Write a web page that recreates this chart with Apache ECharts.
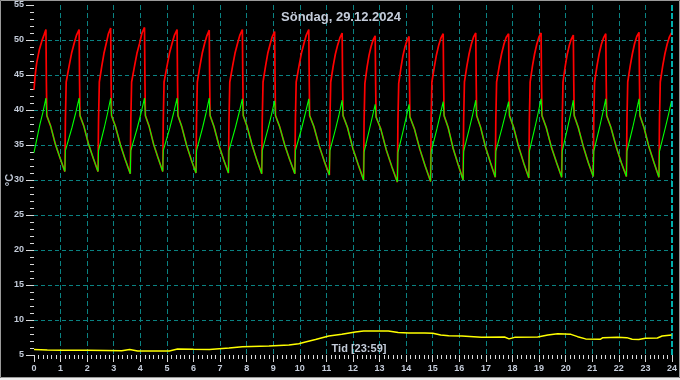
<!DOCTYPE html>
<html><head><meta charset="utf-8">
<script src="https://cdn.jsdelivr.net/npm/echarts@6/dist/echarts.min.js"></script>
<style>html,body{margin:0;padding:0;background:#000;overflow:hidden}#c{width:680px;height:380px}</style>
</head><body><div id="c"></div>
<script>
const titleText = 'Söndag, 29.12.2024';
const xLabelText = 'Tid [23:59]';
const yUnit = '°C';
const cursorTime = 23.983;
const xRange = [0, 24];
const yRange = [5, 55];

const red = [
[0,42.9],[0.04,44.8],[0.1,46.7],[0.2,48.6],[0.29,49.8],[0.375,50.7],[0.449,51.5],
[0.466,44.0],[0.482,39.2],[0.627,37.7],[0.805,35.1],[0.983,33.1],[1.161,31.2],
[1.181,38.6],[1.211,44.0],[1.322,46.3],[1.413,48.1],[1.509,49.5],[1.601,50.7],[1.697,51.5],
[1.714,44.0],[1.730,39.2],[1.875,37.7],[2.053,35.1],[2.230,33.1],[2.408,31.2],
[2.428,38.6],[2.458,44.0],[2.551,46.3],[2.632,48.1],[2.717,49.5],[2.798,50.9],[2.884,51.7],
[2.901,44.0],[2.917,39.2],[3.069,37.6],[3.253,35.0],[3.438,32.85],[3.622,30.9],
[3.642,38.6],[3.672,44.0],[3.783,46.3],[3.873,48.1],[3.970,49.5],[4.061,51.0],[4.157,51.8],
[4.174,44.0],[4.190,39.2],[4.329,37.7],[4.500,35.1],[4.672,33.1],[4.843,31.2],
[4.863,38.6],[4.893,44.0],[5.005,46.3],[5.096,48.1],[5.193,49.5],[5.285,50.7],[5.382,51.5],
[5.399,44.0],[5.415,39.2],[5.560,37.6],[5.738,35.0],[5.916,32.9],[6.094,31.0],
[6.114,38.6],[6.144,44.0],[6.243,46.3],[6.328,48.1],[6.418,49.5],[6.502,50.6],[6.592,51.4],
[6.609,44.0],[6.625,39.2],[6.773,37.6],[6.954,35.0],[7.134,32.9],[7.315,31.0],
[7.335,38.6],[7.365,44.0],[7.472,46.3],[7.561,48.1],[7.656,49.5],[7.745,50.7],[7.839,51.5],
[7.856,44.0],[7.872,39.2],[8.021,37.6],[8.203,35.0],[8.384,32.85],[8.566,30.9],
[8.586,38.6],[8.616,44.0],[8.712,46.3],[8.794,48.1],[8.882,49.4],[8.965,50.5],[9.052,51.2],
[9.069,44.0],[9.085,39.2],[9.242,37.6],[9.433,35.0],[9.623,32.85],[9.813,30.9],
[9.833,38.6],[9.863,44.0],[9.970,46.3],[10.059,48.1],[10.154,49.5],[10.243,50.7],[10.337,51.5],
[10.354,44.0],[10.370,39.2],[10.531,37.6],[10.725,34.9],[10.918,32.7],[11.112,30.7],
[11.132,38.6],[11.162,44.0],[11.256,46.3],[11.338,48.0],[11.424,49.3],[11.506,50.3],[11.592,51.0],
[11.609,44.0],[11.625,39.2],[11.793,37.5],[11.995,34.5],[12.196,32.2],[12.397,30.0],
[12.417,38.4],[12.447,43.8],[12.528,46.1],[12.603,47.8],[12.682,49.1],[12.756,50.0],[12.835,50.6],
[12.852,43.8],[12.868,39.0],[13.044,37.3],[13.253,34.3],[13.461,31.9],[13.670,29.7],
[13.690,38.4],[13.720,43.8],[13.802,46.0],[13.876,47.7],[13.955,49.0],[14.030,49.9],[14.109,50.5],
[14.126,43.8],[14.142,39.0],[14.311,37.3],[14.514,34.4],[14.716,32.0],[14.918,29.8],
[14.938,38.5],[14.968,44.0],[15.061,46.2],[15.141,47.9],[15.227,49.3],[15.308,50.3],[15.393,50.9],
[15.410,44.0],[15.426,39.2],[15.580,37.5],[15.768,34.5],[15.955,32.2],[16.142,30.0],
[16.162,38.5],[16.192,44.0],[16.285,46.3],[16.366,48.0],[16.451,49.4],[16.532,50.4],[16.618,51.0],
[16.635,44.0],[16.651,39.2],[16.802,37.5],[16.985,34.7],[17.169,32.5],[17.352,30.4],
[17.372,38.5],[17.402,44.0],[17.503,46.3],[17.588,48.0],[17.678,49.4],[17.764,50.4],[17.854,50.9],
[17.871,44.0],[17.887,39.2],[18.044,37.5],[18.234,34.7],[18.424,32.4],[18.614,30.3],
[18.634,38.5],[18.664,44.0],[18.752,46.3],[18.831,48.0],[18.914,49.4],[18.992,50.4],[19.075,51.0],
[19.092,44.0],[19.108,39.2],[19.269,37.5],[19.463,34.7],[19.656,32.5],[19.850,30.4],
[19.870,38.5],[19.900,44.0],[19.981,46.2],[20.056,47.9],[20.135,49.2],[20.209,50.1],[20.288,50.7],
[20.305,44.0],[20.321,39.2],[20.475,37.5],[20.663,34.8],[20.850,32.5],[21.037,30.5],
[21.057,38.5],[21.087,44.0],[21.179,46.3],[21.259,48.0],[21.344,49.4],[21.424,50.3],[21.509,50.9],
[21.526,44.0],[21.542,39.2],[21.703,37.5],[21.897,34.8],[22.091,32.5],[22.285,30.5],
[22.305,38.5],[22.335,44.0],[22.428,46.3],[22.508,48.0],[22.594,49.5],[22.675,50.5],[22.760,51.1],
[22.777,44.0],[22.793,39.2],[22.947,37.5],[23.135,34.7],[23.322,32.5],[23.509,30.4],
[23.529,38.5],[23.559,44.0],[23.651,46.3],[23.732,48.0],[23.817,49.4],[23.898,50.4],[23.983,51.0]
];

const green = [
[0,33.9],[0.22,37.9],[0.33,39.6],[0.449,41.7],
[0.466,40.3],[0.482,39.2],[0.627,37.7],[0.805,35.1],[0.983,33.1],[1.161,31.2],
[1.181,34.2],[1.429,37.5],[1.563,39.5],[1.697,41.7],
[1.714,40.3],[1.730,39.2],[1.875,37.7],[2.053,35.1],[2.230,33.1],[2.408,31.2],
[2.428,34.2],[2.646,37.5],[2.765,39.5],[2.884,41.7],
[2.901,40.3],[2.917,39.2],[3.069,37.6],[3.253,35.0],[3.438,32.85],[3.622,30.9],
[3.642,34.2],[3.890,37.5],[4.023,39.5],[4.157,41.7],
[4.174,40.3],[4.190,39.2],[4.329,37.7],[4.500,35.1],[4.672,33.1],[4.843,31.2],
[4.863,34.2],[5.113,37.5],[5.247,39.5],[5.382,41.7],
[5.399,40.3],[5.415,39.2],[5.560,37.6],[5.738,35.0],[5.916,32.9],[6.094,31.0],
[6.114,34.2],[6.343,37.5],[6.468,39.5],[6.592,41.7],
[6.609,40.3],[6.625,39.2],[6.773,37.6],[6.954,35.0],[7.134,32.9],[7.315,31.0],
[7.335,34.2],[7.577,37.5],[7.708,39.5],[7.839,41.6],
[7.856,40.3],[7.872,39.2],[8.021,37.6],[8.203,35.0],[8.384,32.85],[8.566,30.9],
[8.586,34.2],[8.809,37.4],[8.931,39.3],[9.052,41.3],
[9.069,40.2],[9.085,39.2],[9.242,37.6],[9.433,35.0],[9.623,32.85],[9.813,30.9],
[9.833,34.2],[10.075,37.5],[10.206,39.5],[10.337,41.6],
[10.354,40.3],[10.370,39.2],[10.531,37.6],[10.725,34.9],[10.918,32.7],[11.112,30.7],
[11.132,34.2],[11.352,37.4],[11.472,39.3],[11.592,41.4],
[11.609,40.2],[11.625,39.2],[11.793,37.5],[11.995,34.5],[12.196,32.2],[12.397,30.0],
[12.417,34.0],[12.616,37.2],[12.726,39.0],[12.835,40.8],
[12.852,39.9],[12.868,39.0],[13.044,37.3],[13.253,34.3],[13.461,31.9],[13.670,29.7],
[13.690,33.9],[13.890,37.1],[13.999,38.9],[14.109,40.8],
[14.126,39.9],[14.142,39.0],[14.311,37.3],[14.514,34.4],[14.716,32.0],[14.918,29.8],
[14.938,34.0],[15.156,37.3],[15.274,39.2],[15.393,41.2],
[15.410,40.2],[15.426,39.2],[15.580,37.5],[15.768,34.5],[15.955,32.2],[16.142,30.0],
[16.162,34.1],[16.380,37.4],[16.499,39.3],[16.618,41.4],
[16.635,40.3],[16.651,39.2],[16.802,37.5],[16.985,34.7],[17.169,32.5],[17.352,30.4],
[17.372,34.1],[17.603,37.4],[17.729,39.3],[17.854,41.2],
[17.871,40.2],[17.887,39.2],[18.044,37.5],[18.234,34.7],[18.424,32.4],[18.614,30.3],
[18.634,34.1],[18.844,37.5],[18.960,39.5],[19.075,41.6],
[19.092,40.3],[19.108,39.2],[19.269,37.5],[19.463,34.7],[19.656,32.5],[19.850,30.4],
[19.870,34.1],[20.069,37.4],[20.179,39.3],[20.288,41.4],
[20.305,40.2],[20.321,39.2],[20.475,37.5],[20.663,34.8],[20.850,32.5],[21.037,30.5],
[21.057,34.1],[21.273,37.5],[21.391,39.5],[21.509,41.6],
[21.526,40.3],[21.542,39.2],[21.703,37.5],[21.897,34.8],[22.091,32.5],[22.285,30.5],
[22.305,34.1],[22.523,37.5],[22.641,39.5],[22.760,41.6],
[22.777,40.3],[22.793,39.2],[22.947,37.5],[23.135,34.7],[23.322,32.5],[23.509,30.4],
[23.529,34.1],[23.746,37.4],[23.865,39.3],[23.983,41.3]
];

const yellow = [
[0,5.8],[0.5,5.7],[1.1,5.67],[2.0,5.67],[2.72,5.65],[3.3,5.6],[3.6,5.8],[3.9,5.57],
[4.6,5.57],[5.09,5.57],[5.4,5.85],[6.0,5.82],[6.6,5.8],[7.34,6.0],[7.84,6.19],[8.84,6.29],
[9.59,6.43],[9.96,6.6],[10.21,6.85],[10.59,7.2],[10.84,7.45],[11.09,7.7],[11.58,7.95],
[12.09,8.3],[12.4,8.43],[13.33,8.43],[13.7,8.2],[14.1,8.15],[14.7,8.14],[15.0,8.1],
[15.3,7.85],[15.6,7.76],[16.1,7.7],[16.83,7.55],[17.7,7.57],[17.87,7.3],[18.08,7.52],
[18.95,7.57],[19.33,7.86],[19.7,8.05],[20.2,7.95],[20.45,7.62],[20.75,7.3],[21.3,7.24],
[21.4,7.48],[21.95,7.52],[22.3,7.48],[22.5,7.24],[22.75,7.2],[23.0,7.38],[23.45,7.43],
[23.63,7.71],[23.983,7.86]
];

const labelColor = '#c4ccda';
const tickColor = '#d8d8d8';
const gridColor = '#0a8282';
const font = 'Liberation Sans';

const chart = echarts.init(document.getElementById('c'), null, {renderer: 'canvas'});
chart.setOption({
  backgroundColor: '#000',
  animation: false,
  grid: {left: 34, right: 5, top: 5, bottom: 25},
  xAxis: {
    type: 'value', min: xRange[0], max: xRange[1], interval: 1,
    axisLine: {show: false},
    axisTick: {show: true, length: 7, lineStyle: {color: tickColor}},
    minorTick: {show: true, splitNumber: 6, length: 4, lineStyle: {color: tickColor}},
    axisLabel: {color: labelColor, fontSize: 9, fontWeight: 'bold', margin: 9, fontFamily: font},
    splitLine: {show: true, showMinLine: false, showMaxLine: false, lineStyle: {color: gridColor, type: [5, 3]}}
  },
  yAxis: {
    type: 'value', min: yRange[0], max: yRange[1], interval: 5,
    axisLine: {show: false},
    axisTick: {show: true, length: 8, lineStyle: {color: tickColor}},
    minorTick: {show: true, splitNumber: 5, length: 4, lineStyle: {color: tickColor}},
    axisLabel: {color: labelColor, fontSize: 9, fontWeight: 'bold', margin: 10, fontFamily: font},
    splitLine: {show: true, showMinLine: false, showMaxLine: false, lineStyle: {color: gridColor, type: [4, 3]}}
  },
  series: [
    {type: 'line', data: red, showSymbol: false, symbol: 'none', lineStyle: {color: '#ff0000', width: 1.7}, z: 3},
    {type: 'line', data: green, showSymbol: false, symbol: 'none', lineStyle: {color: '#00ff00', width: 1.1}, z: 4},
    {type: 'line', data: yellow, showSymbol: false, symbol: 'none', lineStyle: {color: '#ffff00', width: 1.5}, z: 5,
      markLine: {silent: true, symbol: 'none', label: {show: false},
        lineStyle: {color: '#00e8e8', type: [6, 2], width: 1.5}, data: [{xAxis: cursorTime}]}}
  ],
  graphic: [
    {type: 'text', x: 341, y: 17, z: 10, style: {text: titleText, fill: labelColor, font: 'bold 13px "Liberation Sans"', align: 'center', verticalAlign: 'middle', textAlign: 'center', textVerticalAlign: 'middle'}},
    {type: 'text', x: 359, y: 349, z: 10, style: {text: xLabelText, fill: labelColor, font: 'bold 11px "Liberation Sans"', align: 'center', verticalAlign: 'middle', textAlign: 'center', textVerticalAlign: 'middle'}},
    {type: 'text', x: 10, y: 180, rotation: Math.PI / 2, z: 10, style: {text: yUnit, fill: labelColor, font: 'bold 11px "Liberation Sans"', align: 'center', verticalAlign: 'middle', textAlign: 'center', textVerticalAlign: 'middle'}},
    {type: 'rect', z: 20, shape: {x: 0.5, y: 0.5, width: 679, height: 377}, style: {fill: 'none', stroke: '#9a9a9a', lineWidth: 1}},
    {type: 'rect', z: 20, shape: {x: 0, y: 378, width: 680, height: 2}, style: {fill: '#ececec'}}
  ]
});
</script></body></html>
